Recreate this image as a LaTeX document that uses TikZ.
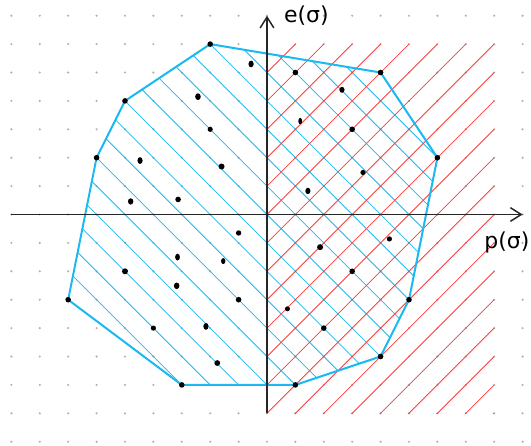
\documentclass[tikz,border=0pt]{standalone}
\usepackage{fontspec}
\newfontfamily\sketchfont{DejaVu Sans}
\usepackage{tikz}
\usetikzlibrary{arrows.meta}
\definecolor{hullblue}{RGB}{28,184,240}
\definecolor{hatchred}{RGB}{255,60,60}

\begin{document}
\begin{tikzpicture}[x=1cm,y=1cm,
  axis/.style={line width=1.5pt,draw=black!85,-{Straight Barb[length=3.8mm,width=4.8mm]}},
  bluehatch/.style={hullblue,line width=0.8pt},
  redhatch/.style={hatchred,line width=0.8pt},
  hull/.style={hullblue,line width=2pt,line join=round},
  axislabel/.style={font=\sketchfont\fontsize{22}{24}\selectfont,inner sep=1pt}]
\useasboundingbox (-9.401,-8.116) rectangle (9.296,7.553);
% dotted paper
\foreach \x in {-9,...,9}
  \foreach \y in {-8,...,7}
    \fill[black!30] (\x,\y) circle (1.2pt);
% hatching of the hull
\begin{scope}
\clip (-2,6) -- (4,5) -- (6,2) -- (5,-3) -- (4,-5) -- (1,-6) -- (-3,-6) -- (-7,-3) -- (-6,2) -- (-5,4) -- cycle;
\foreach \k in {-10,...,9}
  \draw[bluehatch] (\k-10,10) -- (\k+10,-10);
\end{scope}
% hatching of the half plane
\begin{scope}
\clip (0,-7) rectangle (8,6);
\foreach \k in {-15,...,6}
  \draw[redhatch] (-20,\k-20) -- (20,\k+20);
\end{scope}
\draw[hull] (-2,6) -- (4,5) -- (6,2) -- (5,-3) -- (4,-5) -- (1,-6) -- (-3,-6) -- (-7,-3) -- (-6,2) -- (-5,4) -- cycle;
% axes
\coordinate (xmin) at (-9,0);
\coordinate (xmax) at (9,0);
\coordinate (ymin) at (0,-7);
\coordinate (ymax) at (0,7);
\draw[axis] (xmin) -- (xmax);
\draw[axis] (ymin) -- (ymax);
\node[axislabel,anchor=west] (elabel) at (0.56,7.0) {e(σ)};
\node[axislabel,anchor=east] (plabel) at (9.28,-0.97) {p(σ)};
% points
\fill (-2,6) circle (2.8pt);
\fill (4,5) circle (2.8pt);
\fill (6,2) circle (2.8pt);
\fill (5,-3) circle (2.8pt);
\fill (4,-5) circle (2.8pt);
\fill (1,-6) circle (2.8pt);
\fill (-3,-6) circle (2.8pt);
\fill (-7,-3) circle (2.8pt);
\fill (-6,2) circle (2.8pt);
\fill (-5,4) circle (2.8pt);
\fill (-0.56,5.3) ellipse (2.6pt and 3.4pt);
\fill (-2.43,4.15) ellipse (2.8pt and 3.4pt);
\fill (-2,3) circle (2.6pt);
\fill (-4.47,1.9) ellipse (2.6pt and 3.4pt);
\fill (-1.6,1.69) circle (3pt);
\fill (-4.8,0.46) ellipse (2.7pt and 3.2pt);
\fill (-3.13,0.53) circle (2.8pt);
\fill (1,5) circle (2.8pt);
\fill (2.64,4.39) ellipse (2.6pt and 3pt);
\fill (1.17,3.29) ellipse (1.9pt and 3.2pt);
\fill (3,3) circle (2.8pt);
\fill (3.38,1.48) circle (2.6pt);
\fill (1.44,0.83) ellipse (2.6pt and 3.2pt);
\fill (-1,-0.65) circle (2.7pt);
\fill (-3.15,-1.5) ellipse (2.4pt and 3.4pt);
\fill (-1.54,-1.64) ellipse (2.2pt and 3pt);
\fill (-5,-2) circle (3pt);
\fill (-3.18,-2.51) ellipse (2.8pt and 3.3pt);
\fill (-1,-3) circle (2.8pt);
\fill (-4,-4) circle (2.6pt);
\fill (-2.15,-3.94) ellipse (2.6pt and 3.4pt);
\fill (-1.75,-5.23) circle (2.9pt);
\fill (1.87,-1.15) circle (3pt);
\fill (4.31,-0.86) circle (2.6pt);
\fill (3,-2) circle (2.8pt);
\fill (0.72,-3.32) circle (2.5pt);
\fill (2,-4) circle (2.8pt);
\end{tikzpicture}
\end{document}
